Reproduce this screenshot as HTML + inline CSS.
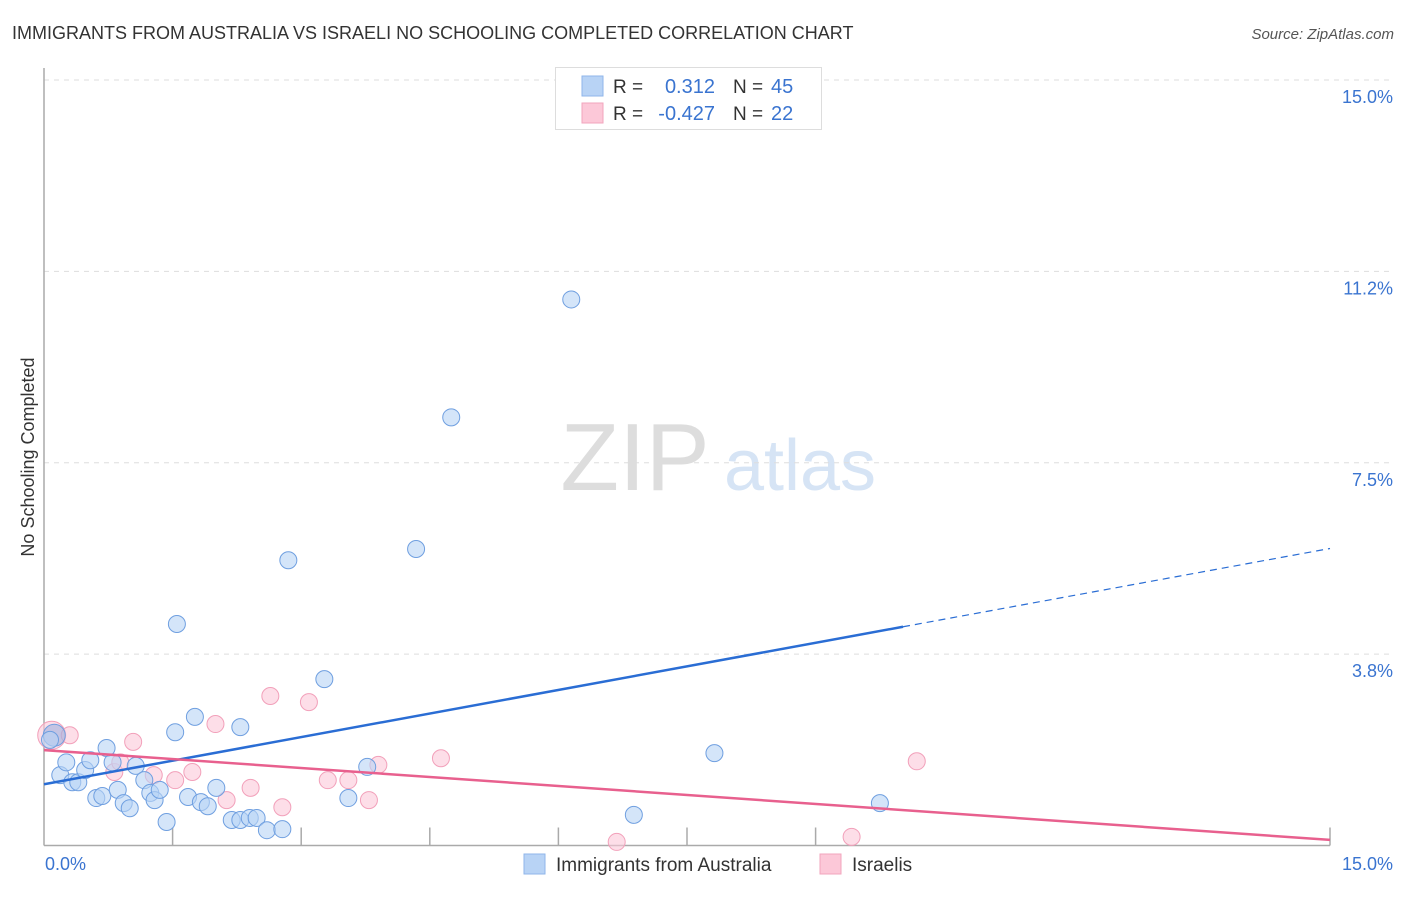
<!DOCTYPE html>
<html><head><meta charset="utf-8">
<style>
body{margin:0;background:#fff;font-family:"Liberation Sans",sans-serif;}
svg text{font-family:"Liberation Sans",sans-serif;}
</style></head>
<body>
<svg id="chart" width="1406" height="892" xmlns="http://www.w3.org/2000/svg">
<text x="12" y="39" font-size="18" fill="#333">IMMIGRANTS FROM AUSTRALIA VS ISRAELI NO SCHOOLING COMPLETED CORRELATION CHART</text>
<text x="1394" y="39" font-size="15" fill="#555" font-style="italic" text-anchor="end">Source: ZipAtlas.com</text>
<text x="34" y="457" font-size="18" fill="#333" text-anchor="middle" transform="rotate(-90 34 457)">No Schooling Completed</text>
<g>
<text x="635" y="490" font-size="96" fill="#ddd" font-family="Liberation Serif" text-anchor="middle">ZIP</text>
<text x="800" y="490" font-size="72" fill="#d6e4f5" text-anchor="middle">atlas</text>
</g>
<g id="grid"></g>
<g id="axes"></g>
<g id="marks"></g>
<g>
<rect x="555.5" y="67.5" width="266" height="62" fill="#fff" stroke="#ddd"/>
<rect x="582" y="76" width="21" height="20" fill="#b8d3f5" stroke="#8fb6ea"/>
<rect x="582" y="103" width="21" height="20" fill="#fcc8d8" stroke="#f2a5bd"/>
<text x="613" y="93" font-size="19" fill="#333">R =</text>
<text x="715" y="93" font-size="20" fill="#3a74d0" text-anchor="end">0.312</text>
<text x="733" y="93" font-size="19" fill="#333">N =</text>
<text x="771" y="93" font-size="20" fill="#3a74d0">45</text>
<text x="613" y="120" font-size="19" fill="#333">R =</text>
<text x="715" y="120" font-size="20" fill="#3a74d0" text-anchor="end">-0.427</text>
<text x="733" y="120" font-size="19" fill="#333">N =</text>
<text x="771" y="120" font-size="20" fill="#3a74d0">22</text>
</g>
<g>
<rect x="524" y="854" width="21" height="20" fill="#b8d3f5" stroke="#8fb6ea"/>
<text x="556" y="871" font-size="19" fill="#333">Immigrants from Australia</text>
<rect x="820" y="854" width="21" height="20" fill="#fcc8d8" stroke="#f2a5bd"/>
<text x="852" y="871" font-size="19" fill="#333">Israelis</text>
</g>
</svg>
<script>
const yTicks=[15,11.25,7.5,3.75];
const yTickLabels=["15.0%","11.2%","7.5%","3.8%"];
const xTickLabels=["0.0%","15.0%"];
const blueX=[0.12,0.07,0.19,0.26,0.33,0.40,0.48,0.54,0.61,0.68,0.73,0.80,0.86,0.93,1.00,1.07,1.17,1.24,1.29,1.35,1.43,1.53,1.55,1.68,1.76,1.83,1.91,2.01,2.19,2.29,2.29,2.40,2.48,2.60,2.78,2.85,3.27,3.55,3.77,4.34,4.75,6.15,6.88,7.82,9.75];
const blueY=[2.16,2.07,1.38,1.63,1.24,1.24,1.48,1.67,0.93,0.97,1.91,1.63,1.09,0.83,0.73,1.56,1.28,1.03,0.89,1.09,0.46,2.22,4.34,0.95,2.52,0.85,0.77,1.13,0.50,2.32,0.50,0.54,0.54,0.30,0.32,5.59,3.26,0.93,1.54,5.81,8.39,10.70,0.60,1.81,0.83];
const pinkX=[0.09,0.30,0.82,0.89,1.04,1.28,1.53,1.73,2.00,2.13,2.41,2.64,2.78,3.09,3.31,3.55,3.79,3.90,4.63,6.68,9.42,10.18];
const pinkY=[2.16,2.16,1.44,1.63,2.03,1.38,1.28,1.44,2.38,0.89,1.13,2.93,0.75,2.81,1.28,1.28,0.89,1.58,1.71,0.07,0.17,1.65];
const blueTrend=[1.20,5.82];
const blueTrendSolidEnd=10.02;
const pinkTrend=[1.87,0.11];

const X0=44,X1=1330,Y0=845.5,Y15=80;
const sx=v=>X0+(v/15)*(X1-X0);
const sy=v=>Y0-(v/15)*(Y0-Y15);
const NS="http://www.w3.org/2000/svg";
function mk(tag,parent,attrs){const e=document.createElementNS(NS,tag);for(const k in attrs)e.setAttribute(k,attrs[k]);document.getElementById(parent).appendChild(e);return e;}

yTicks.forEach((t,i)=>{
  const g=mk('line','grid',{x1:X0,x2:X1+60,y1:sy(t),y2:sy(t),stroke:'#ddd','stroke-dasharray':'5,5'});
  
  
  const l=mk('text','axes',{x:1393,y:sy(t)+23,'font-size':18,fill:'#3a74d0','text-anchor':'end'});
  l.textContent=yTickLabels[i];
  
  
});
const ya=mk('line','axes',{x1:X0,x2:X0,y1:68,y2:Y0,stroke:'#aaa','stroke-width':1.5});


const xa=mk('line','axes',{x1:X0,x2:X1,y1:Y0,y2:Y0,stroke:'#aaa','stroke-width':1.5});


[1.5,3,4.5,6,7.5,9,15].forEach(t=>{
  const tk=mk('line','axes',{x1:sx(t),x2:sx(t),y1:Y0-18,y2:Y0,stroke:'#aaa','stroke-width':1.5});
  
  
});
const xl0=mk('text','axes',{x:45,y:870,'font-size':18,fill:'#3a74d0'});
xl0.textContent=xTickLabels[0];


const xl1=mk('text','axes',{x:1393,y:870,'font-size':18,fill:'#3a74d0','text-anchor':'end'});
xl1.textContent=xTickLabels[1];



pinkX.forEach((x,i)=>{
  const c=mk('circle','marks',{cx:sx(x),cy:sy(pinkY[i]),r:i===0?14:8.5,fill:'#fcc8d8','fill-opacity':0.6,stroke:'#f2a0ba','stroke-width':1});
  
  
});
blueX.forEach((x,i)=>{
  const c=mk('circle','marks',{cx:sx(x),cy:sy(blueY[i]),r:i===0?11:8.5,fill:i===0?'#9fb3e0':'#b8d3f5','fill-opacity':0.6,stroke:'#6f9fe0','stroke-width':1});
  
  
});
const bslope=(blueTrend[1]-blueTrend[0])/15;
const bl=mk('line','marks',{x1:sx(0),y1:sy(blueTrend[0]),x2:sx(blueTrendSolidEnd),y2:sy(blueTrend[0]+bslope*blueTrendSolidEnd),stroke:'#2a6dd4','stroke-width':2.5});


const bd=mk('line','marks',{x1:sx(blueTrendSolidEnd),y1:sy(blueTrend[0]+bslope*blueTrendSolidEnd),x2:sx(15),y2:sy(blueTrend[1]),stroke:'#2a6dd4','stroke-width':1.2,'stroke-dasharray':'7,5'});


const pl=mk('line','marks',{x1:sx(0),y1:sy(pinkTrend[0]),x2:sx(15),y2:sy(pinkTrend[1]),stroke:'#e8608e','stroke-width':2.5});


</script>
</body></html>
